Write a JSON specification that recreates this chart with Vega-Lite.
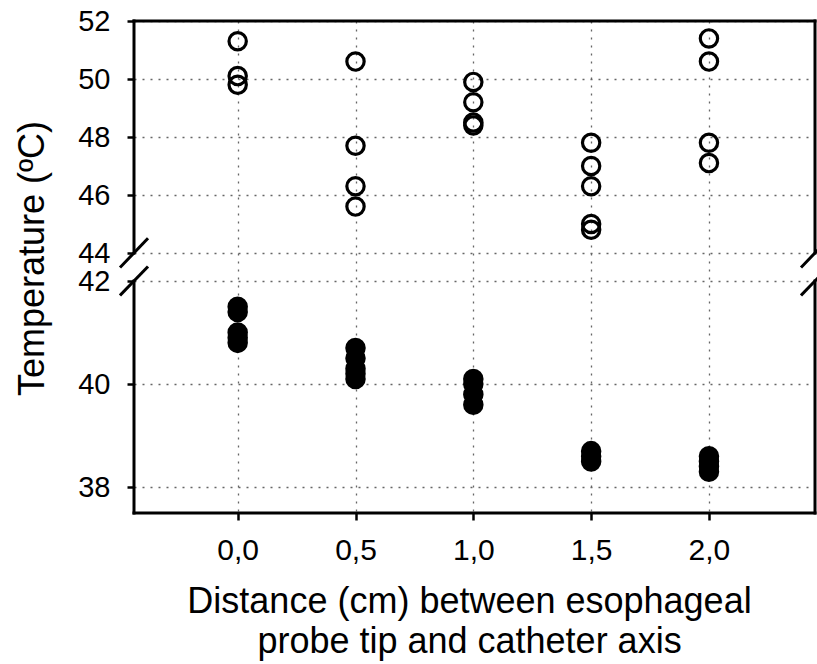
{
  "$schema": "https://vega.github.io/schema/vega-lite/v6.json",
  "autosize": {"type": "none"},
  "padding": {"left": 134, "top": 21, "right": 2, "bottom": 151},
  "width": 681,
  "height": 492,
  "background": "white",
  "config": {
    "view": {"stroke": null},
    "font": "Liberation Sans"
  },
  "datasets": {
    "points": [
      {"distance": 0.0, "temperature": 51.3, "series": "open"},
      {"distance": 0.0, "temperature": 50.1, "series": "open"},
      {"distance": 0.0, "temperature": 49.8, "series": "open"},
      {"distance": 0.5, "temperature": 50.6, "series": "open"},
      {"distance": 0.5, "temperature": 47.7, "series": "open"},
      {"distance": 0.5, "temperature": 46.3, "series": "open"},
      {"distance": 0.5, "temperature": 45.6, "series": "open"},
      {"distance": 1.0, "temperature": 49.9, "series": "open"},
      {"distance": 1.0, "temperature": 49.2, "series": "open"},
      {"distance": 1.0, "temperature": 48.5, "series": "open"},
      {"distance": 1.0, "temperature": 48.4, "series": "open"},
      {"distance": 1.5, "temperature": 47.8, "series": "open"},
      {"distance": 1.5, "temperature": 47.0, "series": "open"},
      {"distance": 1.5, "temperature": 46.3, "series": "open"},
      {"distance": 1.5, "temperature": 45.0, "series": "open"},
      {"distance": 1.5, "temperature": 44.8, "series": "open"},
      {"distance": 2.0, "temperature": 51.4, "series": "open"},
      {"distance": 2.0, "temperature": 50.6, "series": "open"},
      {"distance": 2.0, "temperature": 47.8, "series": "open"},
      {"distance": 2.0, "temperature": 47.1, "series": "open"},
      {"distance": 0.0, "temperature": 41.5, "series": "filled"},
      {"distance": 0.0, "temperature": 41.4, "series": "filled"},
      {"distance": 0.0, "temperature": 41.0, "series": "filled"},
      {"distance": 0.0, "temperature": 40.9, "series": "filled"},
      {"distance": 0.0, "temperature": 40.8, "series": "filled"},
      {"distance": 0.5, "temperature": 40.7, "series": "filled"},
      {"distance": 0.5, "temperature": 40.5, "series": "filled"},
      {"distance": 0.5, "temperature": 40.3, "series": "filled"},
      {"distance": 0.5, "temperature": 40.2, "series": "filled"},
      {"distance": 0.5, "temperature": 40.1, "series": "filled"},
      {"distance": 1.0, "temperature": 40.1, "series": "filled"},
      {"distance": 1.0, "temperature": 40.0, "series": "filled"},
      {"distance": 1.0, "temperature": 39.8, "series": "filled"},
      {"distance": 1.0, "temperature": 39.6, "series": "filled"},
      {"distance": 1.5, "temperature": 38.7, "series": "filled"},
      {"distance": 1.5, "temperature": 38.6, "series": "filled"},
      {"distance": 1.5, "temperature": 38.5, "series": "filled"},
      {"distance": 2.0, "temperature": 38.6, "series": "filled"},
      {"distance": 2.0, "temperature": 38.5, "series": "filled"},
      {"distance": 2.0, "temperature": 38.4, "series": "filled"},
      {"distance": 2.0, "temperature": 38.3, "series": "filled"}
    ],
    "frame": [
      {"x1": -0.44, "x2": 2.45, "y1": 52, "y2": 52},
      {"x1": -0.44, "x2": 2.45, "y1": 37.5, "y2": 37.5},
      {"x1": -0.44, "x2": -0.44, "y1": 44, "y2": 52},
      {"x1": -0.44, "x2": -0.44, "y1": 37.5, "y2": 42},
      {"x1": 2.45, "x2": 2.45, "y1": 44, "y2": 52},
      {"x1": 2.45, "x2": 2.45, "y1": 37.5, "y2": 42},
      {"x1": -0.495, "x2": -0.385, "y1": 43.04, "y2": 44.47},
      {"x1": -0.495, "x2": -0.385, "y1": 41.74, "y2": 42.96},
      {"x1": 2.395, "x2": 2.505, "y1": 43.04, "y2": 44.47},
      {"x1": 2.395, "x2": 2.505, "y1": 41.74, "y2": 42.96}
    ]
  },
  "layer": [
    {
      "data": {"name": "frame"},
      "mark": {"type": "rule", "color": "black", "strokeWidth": 3, "strokeCap": "square"},
      "encoding": {
        "x": {"field": "x1", "type": "quantitative", "scale": {"domain": [-0.44, 2.45], "nice": false, "zero": false},
          "axis": {
            "title": ["Distance (cm) between esophageal", "probe tip and catheter axis"],
            "values": [0, 0.5, 1, 1.5, 2],
            "labelExpr": "replace(format(datum.value, '.1f'), '.', ',')",
            "domain": false,
            "grid": true,
            "gridColor": "#666",
            "gridDash": [2, 6],
            "gridWidth": 1.3,
            "ticks": true,
            "tickColor": "black",
            "tickWidth": 2.5,
            "tickSize": 7,
            "labelFontSize": 30,
            "labelColor": "black",
            "labelPadding": 15,
            "labelFont": "Liberation Sans",
            "titleFont": "Liberation Sans",
            "titleFontSize": 36,
            "titleFontWeight": "normal",
            "titleColor": "black",
            "titleLineHeight": 40,
            "titleBaseline": "top",
            "titleX": 335,
            "titleY": 71
          }
        },
        "x2": {"field": "x2"},
        "y": {"field": "y1", "type": "quantitative",
          "scale": {"type": "linear", "domain": [37.5, 42, 44, 52], "range": [492, 260, 232, 0], "nice": false, "zero": false},
          "axis": {
            "title": "Temperature (ºC)",
            "values": [38, 40, 42, 44, 46, 48, 50, 52],
            "labelOverlap": false,
            "labelBound": false,
            "labelFlush": false,
            "domain": false,
            "grid": true,
            "gridColor": "#666",
            "gridDash": [2, 6],
            "gridWidth": 1.3,
            "ticks": true,
            "tickColor": "black",
            "tickWidth": 2.5,
            "tickSize": 7,
            "labelFontSize": 29,
            "labelColor": "black",
            "labelPadding": 17,
            "labelFont": "Liberation Sans",
            "titleFont": "Liberation Sans",
            "titleFontSize": 36,
            "titleFontWeight": "normal",
            "titleColor": "black",
            "titleAngle": -90,
            "titleAlign": "center",
            "titleBaseline": "middle",
            "titleX": -102,
            "titleY": 237
          }
        },
        "y2": {"field": "y2"}
      }
    },
    {
      "data": {"name": "points"},
      "mark": {"type": "point", "shape": "circle", "size": 300, "stroke": "black", "strokeWidth": 3.2, "opacity": 1},
      "encoding": {
        "x": {"field": "distance", "type": "quantitative"},
        "y": {"field": "temperature", "type": "quantitative"},
        "fill": {"field": "series", "type": "nominal", "scale": {"domain": ["open", "filled"], "range": ["transparent", "black"]}, "legend": null}
      }
    }
  ]
}
